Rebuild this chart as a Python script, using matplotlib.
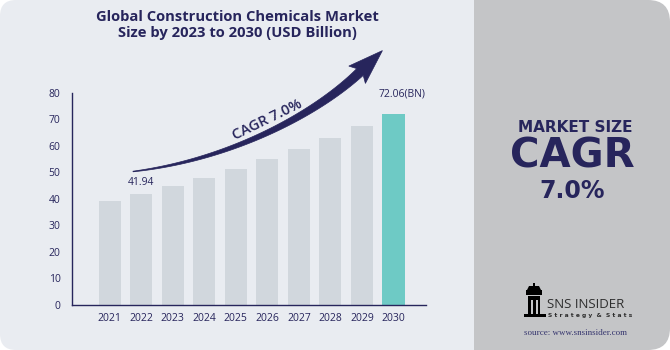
import numpy as np
import matplotlib
matplotlib.use('Agg')
import matplotlib.pyplot as plt
from matplotlib.patches import FancyBboxPatch, Rectangle, Polygon

# data
years = ['2021', '2022', '2023', '2024', '2025', '2026', '2027', '2028', '2029', '2030']
values = [39.2, 41.94, 44.9, 48.0, 51.4, 55.0, 58.8, 62.9, 67.3, 72.06]
yticks = [0, 10, 20, 30, 40, 50, 60, 70, 80]

NAVY = '#27255c'
BAR = '#d1d7dd'
TEAL = '#6ecac5'
LEFT_BG = '#e9ecf1'
RIGHT_BG = '#c4c5c7'

W, H = 670, 350
fig = plt.figure(figsize=(W / 100, H / 100), dpi=100)
fig.patch.set_facecolor('white')

# background in pixel coordinates
bg = fig.add_axes([0, 0, 1, 1])
bg.set_xlim(0, W)
bg.set_ylim(H, 0)
bg.axis('off')

bg.add_patch(FancyBboxPatch((0, 0), 520, H, boxstyle='round,pad=0,rounding_size=16',
                            fc=LEFT_BG, ec='none'))
bg.add_patch(FancyBboxPatch((474, 0), W - 474, H, boxstyle='round,pad=0,rounding_size=22',
                            fc=RIGHT_BG, ec='none'))
bg.add_patch(Rectangle((474, 0), 40, H, fc=RIGHT_BG, ec='none'))

# title
bg.text(237, 25, 'Global Construction Chemicals Market\nSize by 2023 to 2030 (USD Billion)',
        ha='center', va='center', fontsize=10.6, fontweight='bold', color=NAVY,
        family='Open Sans', linespacing=1.1)

# growth arrow (tapered bezier band + head)
p0, p1, p2, p3 = map(np.array, [(133, 171.5), (230, 160), (316, 114), (360, 72)])
t = np.linspace(0, 1, 120)[:, None]
pts = (1 - t) ** 3 * p0 + 3 * (1 - t) ** 2 * t * p1 + 3 * (1 - t) * t ** 2 * p2 + t ** 3 * p3
d = 3 * (1 - t) ** 2 * (p1 - p0) + 6 * (1 - t) * t * (p2 - p1) + 3 * t ** 2 * (p3 - p2)
d = d / np.linalg.norm(d, axis=1)[:, None]
nrm = np.column_stack([-d[:, 1], d[:, 0]])
w = 0.3 + 4.4 * t ** 0.9
upper = pts + nrm * w
lower = pts - nrm * w
end_dir = d[-1]
end_n = nrm[-1]
tip = p3 + end_dir * 31
wing_a = p3 - end_dir * 4 + end_n * 12
wing_b = p3 - end_dir * 4 - end_n * 12
band = np.vstack([upper, [wing_a, tip, wing_b], lower[::-1]])
bg.add_patch(Polygon(band, closed=True, fc=NAVY, ec=NAVY, lw=0.5))

bg.text(267, 120, 'CAGR 7.0%', rotation=26, ha='center', va='center',
        fontsize=10.5, color=NAVY, family='Open Sans', fontweight='semibold')

# right panel texts
bg.text(575, 128, 'MARKET SIZE', ha='center', va='center', fontsize=11,
        fontweight='bold', color=NAVY, family='DejaVu Sans')
bg.text(572, 156, 'CAGR', ha='center', va='center', fontsize=29,
        fontweight='bold', color=NAVY, family='DejaVu Sans')
bg.text(572, 191, '7.0%', ha='center', va='center', fontsize=17,
        fontweight='bold', color=NAVY, family='DejaVu Sans')

# logo
bg.add_patch(Rectangle((528, 296), 12, 18, fc='black', ec='none'))
bg.add_patch(Rectangle((526, 290), 16, 5, fc='black', ec='none'))
bg.add_patch(Polygon([(527, 290), (529, 286), (539, 286), (541, 290)], fc='black', ec='none'))
bg.add_patch(Rectangle((533, 283), 2, 3, fc='black', ec='none'))
bg.add_patch(Rectangle((531, 300), 2, 14, fc=RIGHT_BG, ec='none'))
bg.add_patch(Rectangle((536, 300), 2, 14, fc=RIGHT_BG, ec='none'))
bg.add_patch(Rectangle((524, 314), 22, 3, fc='black', ec='none'))
bg.text(547, 304, 'SNS INSIDER', ha='left', va='center', fontsize=9.5,
        color='#2e2e2e', family='Open Sans')
bg.text(548, 316, 'S t r a t e g y  &  S t a t s', ha='left', va='center', fontsize=4.3,
        fontweight='bold', color='#2e2e2e', family='DejaVu Sans')
bg.text(575, 333, 'source: www.snsinsider.com', ha='center', va='center', fontsize=6.5,
        color='#35356e', family='Liberation Serif')

# chart axes
ax_l, ax_r, ax_t, ax_b = 71.7, 426, 92.7, 305
ax = fig.add_axes([ax_l / W, (H - ax_b) / H, (ax_r - ax_l) / W, (ax_b - ax_t) / H])
ax.patch.set_alpha(0)
x = np.arange(len(years))
colors = [BAR] * (len(years) - 1) + [TEAL]
ax.bar(x, values, width=0.7, color=colors, zorder=2)
ax.set_xlim(-1.2, len(years) - 1 + 1.03)
ax.set_ylim(0, 80)
ax.set_xticks(x)
ax.set_xticklabels(years)
ax.set_yticks(yticks)
ax.tick_params(length=0, labelsize=7.5, labelcolor=NAVY, pad=6)
for lab in ax.get_xticklabels() + ax.get_yticklabels():
    lab.set_family('Open Sans')
ax.tick_params(axis='y', pad=8)
for s in ['top', 'right']:
    ax.spines[s].set_visible(False)
for s in ['left', 'bottom']:
    ax.spines[s].set_color(NAVY)
    ax.spines[s].set_linewidth(1)

ax.text(x[1], values[1] + 2.2, f'{values[1]:.2f}', ha='center', va='bottom',
        fontsize=7.5, color=NAVY, family='Open Sans')
ax.text(x[-1] + 0.28, values[-1] + 5.5, f'{values[-1]:.2f}(BN)', ha='center', va='bottom',
        fontsize=7.5, color=NAVY, family='Open Sans')

fig.savefig('out.png', dpi=100, facecolor=fig.get_facecolor())
